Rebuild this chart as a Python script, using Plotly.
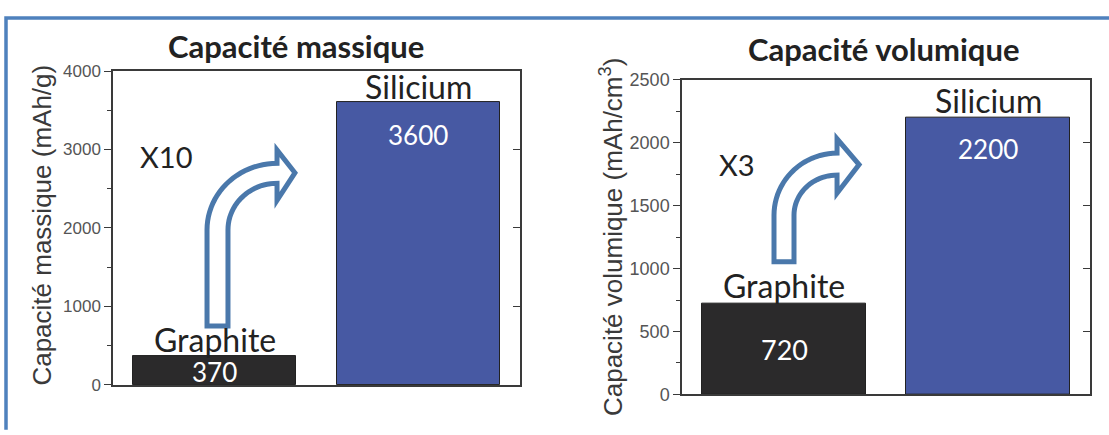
import numpy as np
import plotly.graph_objects as go

# ---------------- data ----------------
materials = ["Graphite", "Silicium"]
mass_capacity = [370, 3600]        # mAh/g
vol_capacity = [720, 2200]         # mAh/cm3
mass_factor = "X10"
vol_factor = "X3"
bar_colors = ["#2b2a2b", "#4759a3"]
titles = ["Capacité massique", "Capacité volumique"]
ytitles = ["Capacité massique (mAh/g)", "Capacité volumique (mAh/cm<sup>3</sup>)"]

W, H = 1109, 435
AX = "#3a3a3a"
ARROW = "#4a78ab"
CAL = "Lato, 'Open Sans', sans-serif"
ARI = "'Liberation Sans', Arial, sans-serif"

xpos = list(range(len(materials)))

fig = go.Figure()
fig.add_trace(go.Bar(x=xpos, y=mass_capacity, width=0.8, marker=dict(color=bar_colors, line=dict(color="#222", width=1)),
                     xaxis="x", yaxis="y", showlegend=False, hoverinfo="skip"))
fig.add_trace(go.Bar(x=xpos, y=vol_capacity, width=0.8, marker=dict(color=bar_colors, line=dict(color="#222", width=1)),
                     xaxis="x2", yaxis="y2", showlegend=False, hoverinfo="skip"))

def px2paper_x(p):
    return p / W

def px2paper_y(p):
    return 1 - p / H

# plot areas (pixels)
L = dict(x0=113, x1=520, y0=64, y1=393)
R = dict(x0=682, x1=1090, y0=73, y1=403)

xcommon = dict(range=[-0.5, 1.5], showline=True, linecolor=AX, linewidth=1.5, mirror=True,
               showticklabels=False, ticks="", showgrid=False, zeroline=False, fixedrange=True)
ycommon = dict(showline=True, linecolor=AX, linewidth=1.5, mirror=True, ticks="outside", ticklen=7,
               tickwidth=1.3, tickcolor=AX, showgrid=False, zeroline=False, fixedrange=True)

fig.update_layout(
    width=W, height=H, margin=dict(l=0, r=0, t=0, b=0),
    paper_bgcolor="white", plot_bgcolor="white", bargap=0,
    xaxis=dict(domain=[px2paper_x(L["x0"]), px2paper_x(L["x1"])], anchor="y", **xcommon),
    yaxis=dict(domain=[px2paper_y(L["y1"]), px2paper_y(L["y0"])], anchor="x", range=[0, 4000], dtick=1000,
               tickfont=dict(family=ARI, size=17, color="#555"),
               minor=dict(dtick=500, ticks="outside", ticklen=4, tickcolor=AX), **ycommon),
    xaxis2=dict(domain=[px2paper_x(R["x0"]), px2paper_x(R["x1"])], anchor="y2", **xcommon),
    yaxis2=dict(domain=[px2paper_y(R["y1"]), px2paper_y(R["y0"])], anchor="x2", range=[0, 2500], dtick=500,
                tickfont=dict(family=ARI, size=18, color="#555"),
                minor=dict(dtick=250, ticks="outside", ticklen=4, tickcolor=AX), **ycommon),
    yaxis3=dict(overlaying="y", anchor="x", side="right", range=[0, 4000], dtick=1000, ticks="inside",
                ticklen=7, tickwidth=1.3, tickcolor=AX, showticklabels=False, showgrid=False,
                zeroline=False, showline=False, fixedrange=True),
    yaxis4=dict(overlaying="y2", anchor="x2", side="right", range=[0, 2500], dtick=500, ticks="inside",
                ticklen=7, tickwidth=1.3, tickcolor=AX, showticklabels=False, showgrid=False,
                zeroline=False, showline=False, fixedrange=True),
)
# invisible traces so overlay axes render
fig.add_trace(go.Scatter(x=[0], y=[0], xaxis="x", yaxis="y3", mode="markers", marker=dict(opacity=0),
                         showlegend=False, hoverinfo="skip"))
fig.add_trace(go.Scatter(x=[0], y=[0], xaxis="x2", yaxis="y4", mode="markers", marker=dict(opacity=0),
                         showlegend=False, hoverinfo="skip"))

# ---------------- text ----------------
anns = []
def add(text, x, y, xref, yref, size, color="#222", family=CAL, yshift=0, bold=False, angle=0):
    if bold:
        text = "<b>" + text + "</b>"
    anns.append(dict(text=text, x=x, y=y, xref=xref, yref=yref, showarrow=False, yshift=yshift,
                     xanchor="center", yanchor="middle", textangle=angle,
                     font=dict(family=family, size=size, color=color)))

# titles
add(titles[0], px2paper_x(296), px2paper_y(38), "paper", "paper", 31, bold=True)
add(titles[1], px2paper_x(883), px2paper_y(41), "paper", "paper", 31, bold=True)
# y-axis titles
add(ytitles[0], px2paper_x(42), px2paper_y(226), "paper", "paper", 26, color="#3a3a3a", family=ARI, angle=-90)
add(ytitles[1], px2paper_x(611), px2paper_y(238), "paper", "paper", 26, color="#3a3a3a", family=ARI, angle=-90)

# bar labels (left)
add(materials[0], 0, mass_capacity[0], "x", "y", 32, yshift=16)
add(str(mass_capacity[0]), 0, mass_capacity[0], "x", "y", 26, color="white", yshift=-16)
add(materials[1], 1, mass_capacity[1], "x", "y", 32, yshift=16)
add(str(mass_capacity[1]), 1, mass_capacity[1], "x", "y", 26, color="white", yshift=-33)
add(mass_factor, -0.24, 2909, "x", "y", 29, color="#222")
# bar labels (right)
add(materials[0], 0, vol_capacity[0], "x2", "y2", 32, yshift=18)
add(str(vol_capacity[0]), 0, vol_capacity[0] / 2, "x2", "y2", 27, color="white")
add(materials[1], 1, vol_capacity[1], "x2", "y2", 32, yshift=17)
add(str(vol_capacity[1]), 1, vol_capacity[1], "x2", "y2", 26, color="white", yshift=-32)
add(vol_factor, -0.23, 1830, "x2", "y2", 29, color="#222")

# ---------------- curved arrows ----------------
def arrow_path(cx, cy, rxo, ryo, rxi, ryi, bottom, head_top, head_bot, tx, ty, n=24):
    pts = [(cx - rxo, bottom), (cx - rxo, cy)]
    for t in np.linspace(np.pi, np.pi / 2, n)[1:]:
        pts.append((cx + rxo * np.cos(t), cy + ryo * np.sin(t)))
    pts += [(cx, head_top), (tx, ty), (cx, head_bot)]
    for t in np.linspace(np.pi / 2, np.pi, n):
        pts.append((cx + rxi * np.cos(t), cy + ryi * np.sin(t)))
    pts.append((cx - rxi, bottom))
    return "M " + " L ".join(f"{x:.4f},{y:.2f}" for x, y in pts) + " Z"

shapes = []
shapes.append(dict(type="path", xref="x", yref="y", line=dict(color=ARROW, width=5), fillcolor="white",
                   path=arrow_path(0.306, 1976, 0.344, 848, 0.241, 594, 752, 2994, 2352, 0.394, 2703)))
shapes.append(dict(type="path", xref="x2", yref="y2", line=dict(color=ARROW, width=5), fillcolor="white",
                   path=arrow_path(0.260, 1424, 0.309, 492, 0.211, 318, 1053, 2030, 1598, 0.368, 1826)))

# outer frame (left + top)
shapes.append(dict(type="path", xref="paper", yref="paper", line=dict(color="#4f81bd", width=3.5),
                   path=f"M {px2paper_x(6)},{px2paper_y(440)} L {px2paper_x(6)},{px2paper_y(8.5)} L {px2paper_x(1115)},{px2paper_y(8.5)}"))

fig.update_layout(annotations=anns, shapes=shapes)

page_css = ("var s=document.createElement('style');"
            "s.textContent='html,body{margin:0!important;padding:0!important;overflow:hidden;}';"
            "document.head.appendChild(s);")
fig.write_html("out.html", config={"displayModeBar": False}, post_script=page_css)
